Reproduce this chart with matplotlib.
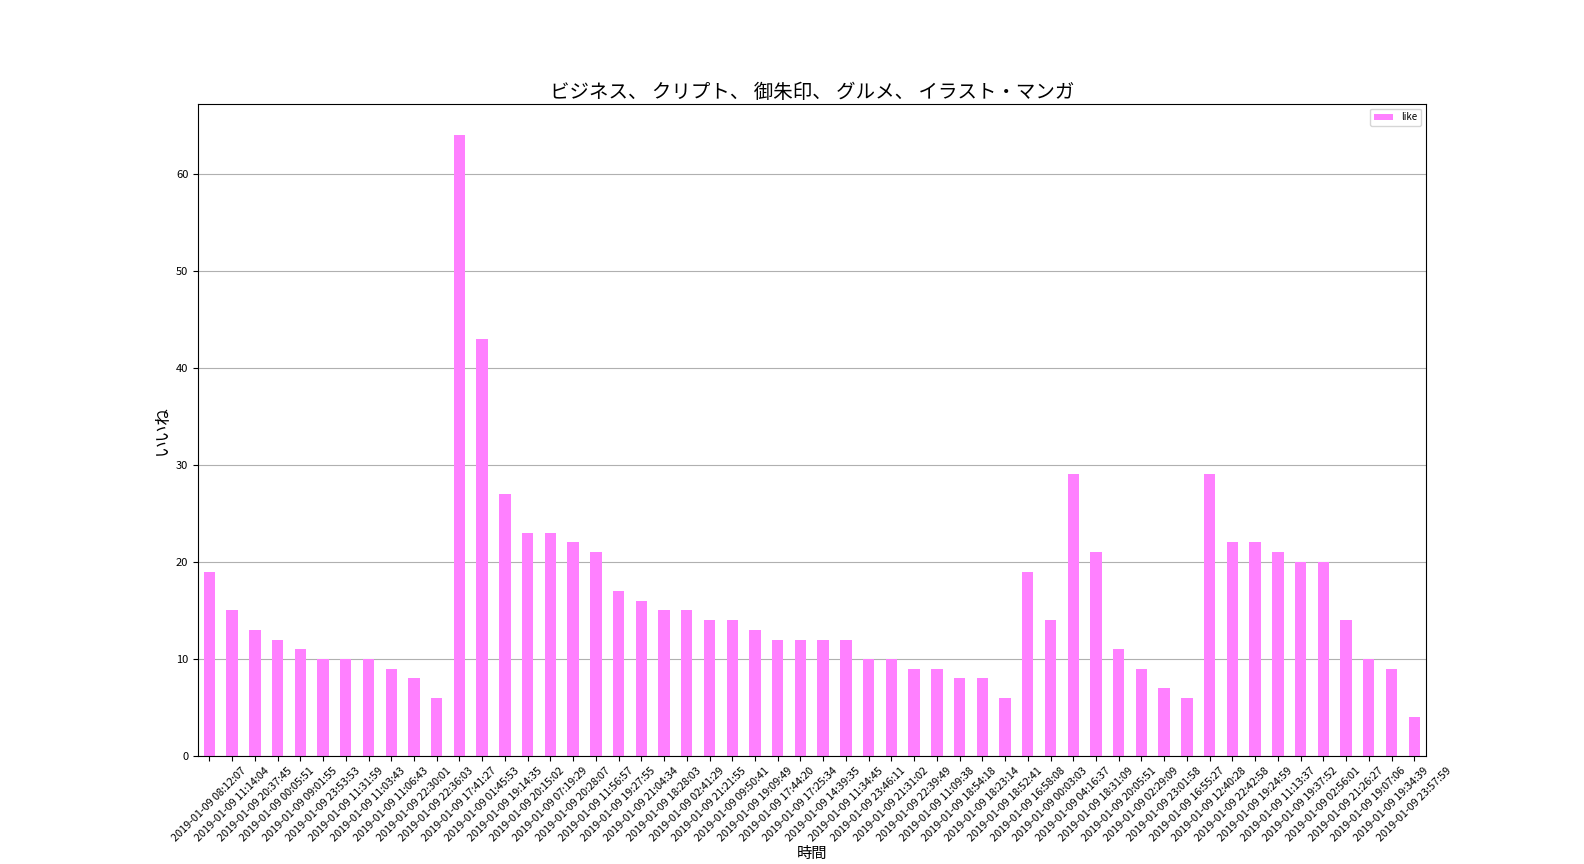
import matplotlib
matplotlib.use("Agg")
import matplotlib.pyplot as plt
import numpy as np

plt.rcParams['font.family'] = ['Noto Sans CJK JP', 'DejaVu Sans']

times = ["08:12:07", "11:14:04", "20:37:45", "00:05:51", "09:01:55", "23:53:53",
         "11:31:59", "11:03:43", "11:06:43", "22:30:01", "22:36:03", "17:41:27",
         "01:45:53", "19:14:35", "20:15:02", "07:19:29", "20:28:07", "11:56:57",
         "19:27:55", "21:04:34", "18:28:03", "02:41:29", "21:21:55", "09:50:41",
         "19:09:49", "17:44:20", "17:25:34", "14:39:35", "11:34:45", "23:46:11",
         "21:31:02", "22:39:49", "11:09:38", "18:54:18", "18:23:14", "18:52:41",
         "16:58:08", "00:03:03", "04:16:37", "18:31:09", "20:05:51", "02:29:09",
         "23:01:58", "16:55:27", "12:40:28", "22:42:58", "19:24:59", "11:13:37",
         "19:37:52", "02:56:01", "21:26:27", "19:07:06", "19:34:39", "23:57:59"]
labels = ["2019-01-09 " + t for t in times]
likes = [19, 15, 13, 12, 11, 10, 10, 10, 9, 8, 6, 64, 43, 27, 23, 23, 22, 21, 17, 16,
         15, 15, 14, 14, 13, 12, 12, 12, 12, 10, 10, 9, 9, 8, 8, 6, 19, 14, 29, 21,
         11, 9, 7, 6, 29, 22, 22, 21, 20, 20, 14, 10, 9, 4]

fig, ax = plt.subplots(figsize=(15.84, 8.64), dpi=100)
fig.subplots_adjust(left=0.125, right=0.9, top=0.88, bottom=0.125)

x = np.arange(len(likes))
ax.bar(x, likes, width=0.5, color='#ff80ff', label='like', zorder=2)
ax.set_xlim(-0.5, len(likes) - 0.5)
ax.set_ylim(0, max(likes) * 1.05)
ax.set_xticks(x)
ax.set_xticklabels(labels, rotation=45, ha='center', fontsize=7.8)
ax.tick_params(axis='y', labelsize=8)
ax.yaxis.grid(True, color='#b0b0b0', linewidth=0.8, zorder=0)
ax.set_axisbelow(True)
ax.set_title('ビジネス、 クリプト、 御朱印、 グルメ、 イラスト・マンガ', fontsize=14, pad=4)
ax.set_xlabel('時間', fontsize=11, labelpad=1)
ax.set_ylabel('いいね', fontsize=12)
ax.legend(loc='upper right', fontsize=7)

fig.savefig('out.png', dpi=100)
